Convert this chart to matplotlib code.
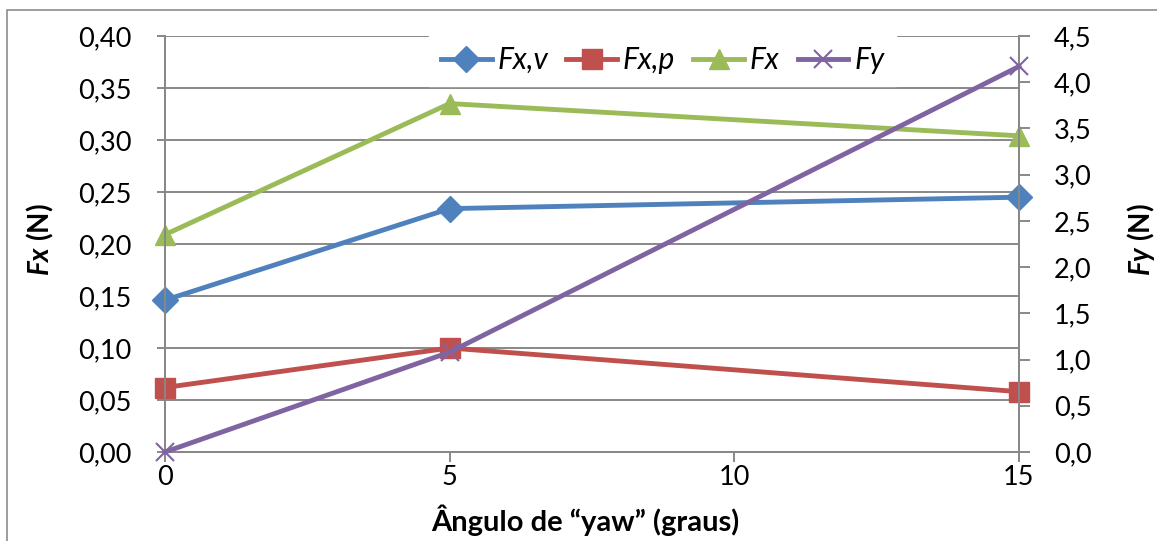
import numpy as np
import matplotlib.pyplot as plt
from matplotlib.ticker import FuncFormatter, MultipleLocator
from matplotlib.patches import Rectangle

plt.rcParams['font.family'] = ['Lato', 'DejaVu Sans']
plt.rcParams['mathtext.fontset'] = 'custom'
plt.rcParams['mathtext.it'] = 'Lato:italic:bold'
plt.rcParams['mathtext.rm'] = 'Lato:bold'

# data
yaw = [0, 5, 15]
fx_v = [0.146, 0.234, 0.245]
fx_p = [0.062, 0.100, 0.058]
fx = [0.209, 0.335, 0.304]
fy = [0.0, 1.08, 4.17]

blue = '#4F81BD'
red = '#C0504D'
green = '#9BBB59'
purple = '#8064A2'
gray = '#888888'

fig = plt.figure(figsize=(11.57, 5.41), dpi=100)
ax = fig.add_axes([0.1426, 0.1645, 0.7381, 0.769])
ax2 = ax.twinx()

# outer chart border
fig.patches.append(Rectangle((7/1157, -0.05), 1.2, 1 - 10/541 + 0.05, transform=fig.transFigure,
                             fill=False, edgecolor='#8c8c8c', lw=1.2))

lw = 3.5
l1, = ax.plot(yaw, fx_v, color=blue, lw=lw, marker='D', ms=13, label='Fx,v', zorder=3, clip_on=False)
l2, = ax.plot(yaw, fx_p, color=red, lw=lw, marker='s', ms=14, label='Fx,p', zorder=3, clip_on=False)
l3, = ax.plot(yaw, fx, color=green, lw=lw, marker='^', ms=15, label='Fx', zorder=3, clip_on=False)
l4, = ax2.plot(yaw, fy, color=purple, lw=lw, marker='x', ms=13, mew=1.5, label='Fy', zorder=3, clip_on=False)

comma = lambda d: FuncFormatter(lambda v, p: f'{v:.{d}f}'.replace('.', ','))

ax.set_xlim(0, 15)
ax.set_ylim(0, 0.40)
ax.yaxis.set_major_locator(MultipleLocator(0.05))
ax.yaxis.set_major_formatter(comma(2))
ax.set_xticks([0, 5, 10, 15])
ax2.set_ylim(0, 4.5)
ax2.yaxis.set_major_locator(MultipleLocator(0.5))
ax2.yaxis.set_major_formatter(comma(1))

ax.grid(axis='y', color=gray, lw=1.4)
ax.set_axisbelow(True)
for a in (ax, ax2):
    for s in a.spines.values():
        s.set_color(gray)
        s.set_linewidth(1.4)
    a.spines['top'].set_visible(False)
    a.tick_params(colors=gray, labelcolor='black', labelsize=19.5, width=1.4)
ax.tick_params(axis='y', length=6, pad=18)
ax2.tick_params(axis='y', length=8, pad=17)
ax.tick_params(axis='x', length=7, pad=2)

ax.set_ylabel(r'$Fx$ (N)', fontsize=20, fontweight='bold', va='center')
ax.yaxis.set_label_coords(-0.146, 0.51)
ax2.set_ylabel(r'$Fy$ (N)', fontsize=20, fontweight='bold', va='center')
ax2.yaxis.set_label_coords(1.143, 0.51)
ax.set_xlabel('Ângulo de “yaw” (graus)', fontsize=21, fontweight='bold', va='center')
ax.xaxis.set_label_coords(0.492, -0.163)

leg = ax2.legend(handles=[l1, l2, l3, l4], loc='center left', bbox_to_anchor=(0.309, 0.942), ncol=4,
                 frameon=True, fancybox=False, edgecolor='white', framealpha=1,
                 handlelength=1.7, columnspacing=0.6, handletextpad=0.2,
                 prop={'style': 'italic', 'size': 21.5}, borderaxespad=0, borderpad=0.4)
leg.set_zorder(10)

fig.savefig('out.png', dpi=100)
